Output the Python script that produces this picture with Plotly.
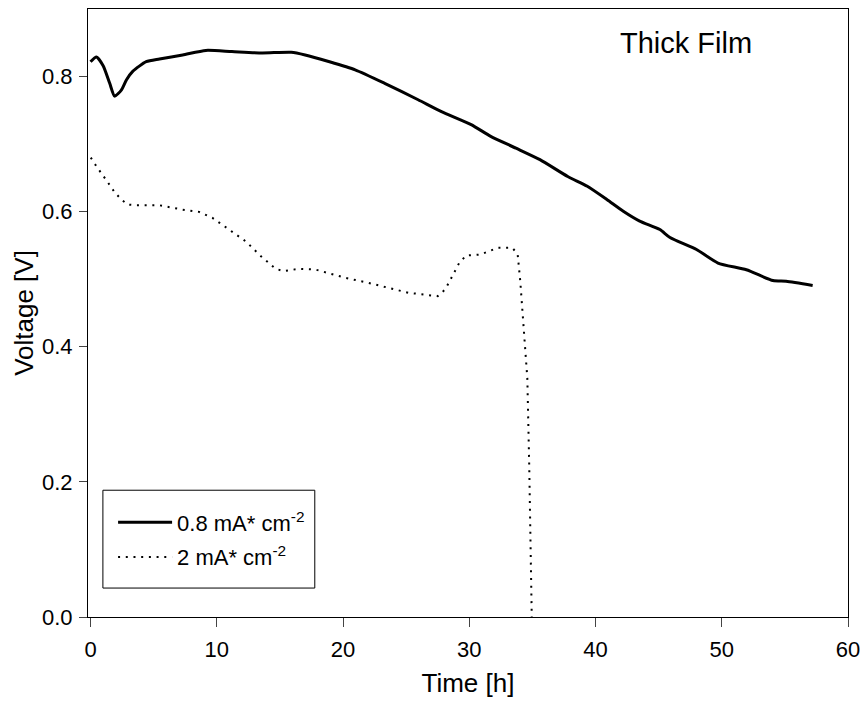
import plotly.graph_objects as go

# Solid curve: 0.8 mA*cm^-2
t_low = [0.0, 0.47, 1.0, 1.52, 1.91, 2.44, 2.84, 3.36, 4.41, 5.46, 7.3, 9.14, 11.2, 13.6,
         15.9, 17.0, 18.86, 20.96, 23.3, 25.95, 27.8, 30.15, 31.7, 33.7, 35.6, 37.8,
         39.35, 40.9, 42.2, 43.5, 45.1, 45.9, 48.0, 49.7, 51.95, 54.06, 55.1, 57.2]
v_low = [0.822, 0.829, 0.816, 0.790, 0.771, 0.780, 0.795, 0.808, 0.822, 0.826, 0.832, 0.8387,
         0.837, 0.835, 0.836, 0.832, 0.8223, 0.810, 0.790, 0.7657, 0.748, 0.7288, 0.7115,
         0.694, 0.677, 0.652, 0.6376, 0.618, 0.6006, 0.586, 0.5735, 0.5617, 0.544, 0.524,
         0.514, 0.498, 0.497, 0.4908]

# Dotted curve: 2 mA*cm^-2
t_high = [0.02, 0.47, 1.39, 1.9, 2.44, 2.96, 3.6, 5.46, 7.3, 8.6, 9.66, 11.0, 12.3, 13.5,
          14.66, 15.3, 16.5, 17.8, 19.0, 20.2, 22.0, 23.3, 25.16, 27.0, 27.5, 28.1, 28.5,
          28.84, 29.2, 29.75, 30.9, 31.6, 32.25, 33.4, 33.83, 34.04, 34.2, 34.35, 34.6,
          34.75, 34.83, 34.95]
v_high = [0.680, 0.667, 0.643, 0.629, 0.618, 0.6105, 0.6095, 0.6095, 0.603, 0.5997, 0.5908,
          0.573, 0.556, 0.534, 0.5154, 0.512, 0.5154, 0.5144, 0.5085, 0.502, 0.4947, 0.4888,
          0.480, 0.476, 0.475, 0.485, 0.498, 0.511, 0.524, 0.535, 0.5366, 0.5415, 0.5465,
          0.5465, 0.5376, 0.497, 0.458, 0.418, 0.353, 0.2237, 0.1256, 0.0]

names = ["0.8 mA* cm<sup>-2</sup>", "2 mA* cm<sup>-2</sup>"]
x_ticks = [0, 10, 20, 30, 40, 50, 60]
y_ticks = [0.0, 0.2, 0.4, 0.6, 0.8]

FONT = "Liberation Sans, Arial, sans-serif"

fig = go.Figure()
fig.add_trace(go.Scatter(x=t_low, y=v_low, mode="lines", name=names[0], legendgroup="a",
                         line=dict(color="black", width=3, shape="spline", smoothing=0.6)))
fig.add_trace(go.Scatter(x=t_high, y=v_high, mode="lines", name=names[1], legendgroup="b",
                         line=dict(color="black", width=2, dash="2px,5.7px")))

fig.update_layout(
    width=868, height=707,
    margin=dict(l=88, r=16, t=8, b=90),
    paper_bgcolor="white", plot_bgcolor="white",
    font=dict(family=FONT, color="black"),
    showlegend=True,
    legend=dict(x=0.033, y=0.19, xanchor="left", yanchor="top",
                borderwidth=0, bgcolor="rgba(0,0,0,0)",
                font=dict(size=22, family=FONT), tracegroupgap=3, itemwidth=54),
    shapes=[dict(type="rect", xref="paper", yref="paper", x0=0.0196, x1=0.2984,
                 y0=0.0476, y1=0.2085, line=dict(color="black", width=1),
                 fillcolor="white", layer="above")],
    annotations=[dict(text="Thick Film", xref="paper", yref="paper", x=0.787, y=0.944,
                      xanchor="center", yanchor="middle", showarrow=False,
                      font=dict(size=29, family=FONT))],
)
fig.update_xaxes(range=[-0.2, 60], tickvals=x_ticks, ticks="outside", ticklen=9, tickwidth=1,
                 showline=True, linecolor="black", linewidth=1, mirror=True, showgrid=False,
                 zeroline=False, tickfont=dict(size=22), ticklabelstandoff=4,
                 title=dict(text="Time [h]", font=dict(size=26), standoff=12))
fig.update_yaxes(range=[0, 0.9], tickvals=y_ticks, tickformat=".1f", ticks="outside", ticklen=8,
                 tickwidth=1, showline=True, linecolor="black", linewidth=1, mirror=True,
                 showgrid=False, zeroline=False, tickfont=dict(size=22), ticklabelstandoff=2,
                 title=dict(text="Voltage [V]", font=dict(size=26), standoff=0))

fig.write_html("out.html", config={"displayModeBar": False},
               post_script="document.body.style.margin='0';")
